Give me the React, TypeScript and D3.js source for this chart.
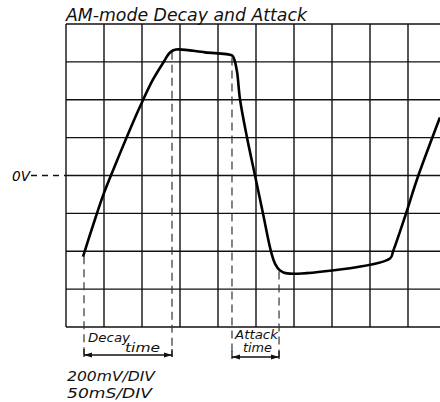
import React, { useEffect, useRef } from 'react';
import * as d3 from 'd3';

// trace: time (ms) and level (mV)
const timeMs = [22.4, 35.5, 48.7, 64.5, 80.3, 97.4, 114.5, 128.9, 136.8, 144.7, 182.9, 218.4, 221, 225, 229, 238.2, 248.7, 259.2, 269.7, 275, 281.6, 290.8, 426.3, 430.3, 447.4, 461.8, 492];
const levelMv = [-428, -264, -106, 53, 206, 364, 507, 602, 650, 665, 650, 634, 618, 549, 401, 200, 0, -201, -401, -465, -502, -517, -438, -401, -201, -21, 306];

// decay: start / end, attack: start / end (ms, mV where dashed line meets the trace)
const markerTimes = [23.7, 139.5, 218.4, 280.3];
const markerLevels = [-427, 654, 623, -507];

const timeDivs = d3.range(0, 501, 50);
const levelDivs = d3.range(-800, 801, 200);

const App: React.FC = () => {
  const svgRef = useRef<SVGSVGElement>(null);

  useEffect(() => {
    const svg = d3.select(svgRef.current);
    svg.selectAll('*').remove();

    const x = d3.scaleLinear().domain([0, 500]).range([66, 446]);
    const y = d3.scaleLinear().domain([-800, 800]).range([327, 24]);
    const font = "'DejaVu Sans', sans-serif";

    svg.append('rect').attr('width', 440).attr('height', 402).attr('fill', '#fff');

    // grid
    const grid = svg.append('g').attr('stroke', '#111').attr('stroke-width', 1.4);
    grid.selectAll('.v').data(timeDivs).enter().append('line')
      .attr('x1', d => x(d)).attr('x2', d => x(d))
      .attr('y1', y(800)).attr('y2', y(-800));
    grid.selectAll('.h').data(levelDivs).enter().append('line')
      .attr('x1', x(0)).attr('x2', 440)
      .attr('y1', d => y(d)).attr('y2', d => y(d));

    // 0V reference
    svg.append('line')
      .attr('x1', 31).attr('x2', x(0)).attr('y1', y(0)).attr('y2', y(0))
      .attr('stroke', '#111').attr('stroke-width', 1.3).attr('stroke-dasharray', '6,5');
    svg.append('text')
      .attr('x', 12).attr('y', y(0) + 5)
      .attr('font-family', font).attr('font-style', 'italic').attr('font-size', 14)
      .attr('textLength', 18).attr('lengthAdjust', 'spacingAndGlyphs')
      .text('0V');

    // dashed markers
    const dashBottom = 357;
    svg.selectAll('.mk').data(markerTimes).enter().append('line')
      .attr('x1', d => x(d)).attr('x2', d => x(d))
      .attr('y1', (d, i) => y(markerLevels[i])).attr('y2', dashBottom)
      .attr('stroke', '#333').attr('stroke-width', 1.2).attr('stroke-dasharray', '8,5');

    // trace
    const pts = timeMs.map((t, i) => [t, levelMv[i]] as [number, number]);
    const line = d3.line<[number, number]>()
      .x(d => x(d[0])).y(d => y(d[1]))
      .curve(d3.curveCatmullRom.alpha(0.5));
    svg.append('path')
      .datum(pts)
      .attr('fill', 'none').attr('stroke', '#000').attr('stroke-width', 2.6)
      .attr('stroke-linejoin', 'round')
      .attr('d', line);

    // dimension arrows
    const arrow = (x1: number, x2: number, yy: number) => {
      svg.append('line').attr('x1', x1).attr('x2', x2).attr('y1', yy).attr('y2', yy)
        .attr('stroke', '#111').attr('stroke-width', 1.3);
      svg.append('path').attr('d', `M${x1},${yy}l8,-2.5l0,5z`).attr('fill', '#111');
      svg.append('path').attr('d', `M${x2},${yy}l-8,-2.5l0,5z`).attr('fill', '#111');
      [x1, x2].forEach(xx => svg.append('line').attr('x1', xx).attr('x2', xx)
        .attr('y1', yy - 6).attr('y2', yy + 2).attr('stroke', '#111').attr('stroke-width', 1.2));
    };
    arrow(x(markerTimes[0]), x(markerTimes[1]), 355);
    arrow(x(markerTimes[2]), x(markerTimes[3]), 357);

    const label = (txt: string, lx: number, ly: number, size: number, len: number) =>
      svg.append('text')
        .attr('x', lx).attr('y', ly)
        .attr('font-family', font).attr('font-style', 'italic').attr('font-size', size)
        .attr('textLength', len).attr('lengthAdjust', 'spacingAndGlyphs')
        .attr('fill', '#111')
        .text(txt);

    label('AM-mode  Decay  and  Attack', 66, 21, 17, 241);
    label('Decay', 88, 342, 13, 42);
    label('time', 125, 352, 13, 35);
    label('Attack', 235, 339, 12, 43);
    label('time', 243, 352, 12, 29);
    label('200mV/DIV', 67, 381, 14, 88);
    label('50mS/DIV', 67, 398, 14, 85);
  }, []);

  return (
    <div style={{ position: 'absolute', left: 0, top: 0 }}>
      <svg ref={svgRef} width={440} height={402} style={{ display: 'block' }}></svg>
    </div>
  );
};

export default App;
